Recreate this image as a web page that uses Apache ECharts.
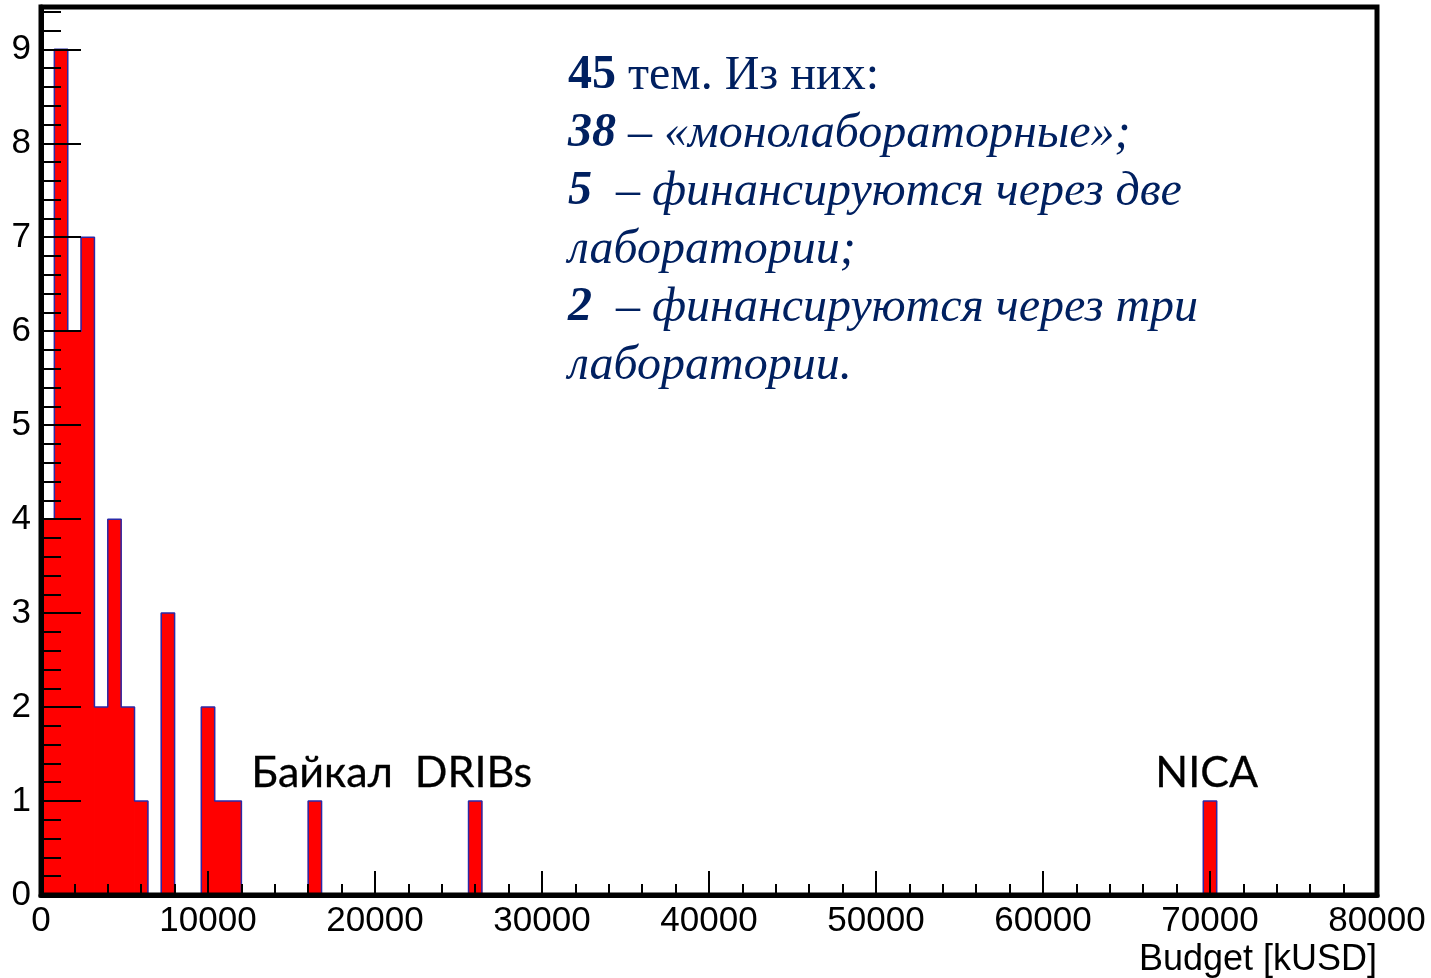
<!DOCTYPE html>
<html>
<head>
<meta charset="utf-8">
<script src="https://cdn.jsdelivr.net/npm/echarts@6/dist/echarts.min.js"></script>
<style>
html,body{margin:0;padding:0;background:#fff;}
#main{width:1431px;height:978px;}
</style>
</head>
<body>
<div id="main"></div>
<script>
// Histogram data: lower edge of each non-empty bin (kUSD) and its count
const binWidth = 800;
const binStart = [0, 800, 1600, 2400, 3200, 4000, 4800, 5600, 7200, 9600, 10400, 11200, 16000, 25600, 69600];
const counts   = [4, 9, 6, 7, 2, 4, 2, 1, 3, 2, 1, 1, 1, 1, 1];
const xTicks = [0, 10000, 20000, 30000, 40000, 50000, 60000, 70000, 80000];
const yTicks = [0, 1, 2, 3, 4, 5, 6, 7, 8, 9];
const xAxisTitle = 'Budget [kUSD]';
const peakLabels = [
  { text: 'Байкал  DRIBs', x: 21000 },
  { text: 'NICA', x: 69800 }
];

const barData = binStart.map((s, i) => [s, s + binWidth, counts[i]]);

// outline (step) points
const outline = [[0, 0]];
for (let i = 0; i < binStart.length; i++) {
  outline.push([binStart[i], counts[i]]);
  const end = binStart[i] + binWidth;
  if (i === binStart.length - 1 || binStart[i + 1] !== end) outline.push([end, 0]);
}

const chart = echarts.init(document.getElementById('main'));
const axisFont = { fontFamily: 'Liberation Sans', fontSize: 35, color: '#000' };

chart.setOption({
  animation: false,
  backgroundColor: '#fff',
  grid: { left: 41, right: 54, top: 7, bottom: 83, show: true, borderColor: '#000', borderWidth: 5, z: 5, backgroundColor: 'transparent' },
  xAxis: {
    type: 'value', min: xTicks[0], max: xTicks[xTicks.length - 1], interval: 10000, z: 5,
    axisLine: { show: true, onZero: false, lineStyle: { color: '#000', width: 5 } },
    axisTick: { show: true, inside: true, length: 24, lineStyle: { color: '#000', width: 2 } },
    minorTick: { show: true, splitNumber: 5, length: 11, lineStyle: { color: '#000', width: 2 } },
    splitLine: { show: false },
    axisLabel: Object.assign({ margin: 9, showMinLabel: true, showMaxLabel: true, formatter: v => String(v) }, axisFont)
  },
  yAxis: {
    type: 'value', min: 0, max: 9.45, interval: 1, z: 5,
    axisLine: { show: true, lineStyle: { color: '#000', width: 5 } },
    axisTick: { show: true, inside: true, length: 40, lineStyle: { color: '#000', width: 2 } },
    minorTick: { show: true, splitNumber: 5, length: 20, lineStyle: { color: '#000', width: 2 } },
    splitLine: { show: false },
    axisLabel: Object.assign({ margin: 10, formatter: v => (yTicks.indexOf(v) >= 0 ? String(v) : '') }, axisFont)
  },
  series: [
    {
      type: 'custom', z: 2,
      data: barData,
      encode: { x: [0, 1], y: 2 },
      renderItem: function (params, api) {
        const p0 = api.coord([api.value(0), api.value(2)]);
        const p1 = api.coord([api.value(1), 0]);
        return { type: 'rect', shape: { x: p0[0] - 0.4, y: p0[1], width: p1[0] - p0[0] + 0.8, height: p1[1] - p0[1] }, style: { fill: '#ff0000' } };
      }
    },
    {
      type: 'line', z: 3, step: 'end', symbol: 'none',
      data: outline,
      lineStyle: { color: '#2a2aa8', width: 1.5 }
    },
    {
      type: 'scatter', z: 4, symbolSize: 0, silent: true,
      itemStyle: { opacity: 1 },
      data: peakLabels.map(p => ({ value: [p.x, 1.3], name: p.text })),
      label: { show: true, position: 'inside', formatter: p => p.name, fontFamily: 'Lato', fontSize: 43, color: '#000', opacity: 1, textBorderColor: '#000', textBorderWidth: 0.3 }
    }
  ],
  graphic: [
    {
      type: 'text', right: 54, bottom: 0,
      style: { text: xAxisTitle, font: '36px "Liberation Sans"', fill: '#000' }
    },
    {
      type: 'text', left: 568, top: 52,
      style: {
        text: '{b|45}{n| тем. Из них:}\n{bi|38}{i| – «монолабораторные»;}\n{bi|5}{i|  – финансируются через две}\n{i|лаборатории;}\n{bi|2}{i|  – финансируются через три}\n{i|лаборатории.}',
        fill: '#002060',
        rich: {
          b: { fontFamily: 'Liberation Serif', fontSize: 48, fontWeight: 'bold', fill: '#002060', lineHeight: 58 },
          n: { fontFamily: 'Liberation Serif', fontSize: 48, fill: '#002060', lineHeight: 58 },
          bi: { fontFamily: 'Liberation Serif', fontSize: 48, fontWeight: 'bold', fontStyle: 'italic', fill: '#002060', lineHeight: 58 },
          i: { fontFamily: 'Liberation Serif', fontSize: 48, fontStyle: 'italic', fill: '#002060', lineHeight: 58 }
        }
      }
    }
  ]
});
</script>
</body>
</html>
